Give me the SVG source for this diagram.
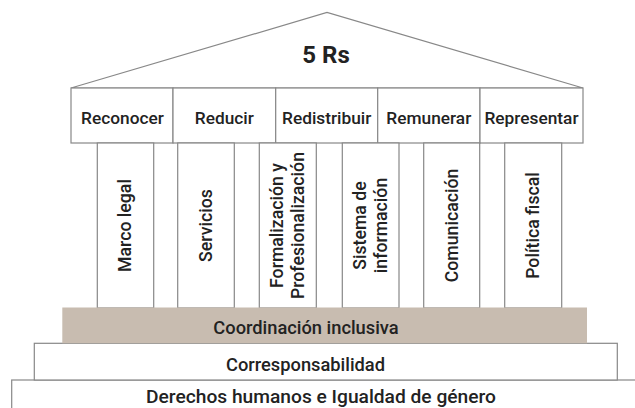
<svg xmlns="http://www.w3.org/2000/svg" width="635" height="408" viewBox="0 0 635 408">
<style>
.ln{fill:#fff;stroke:#888;stroke-width:1.2}
.t{font-family:Roboto,"Noto Sans",sans-serif;font-weight:500;font-size:17.3px;fill:#222;text-anchor:middle;dominant-baseline:central}
.c{font-size:17.7px}
.b{font-size:18.3px}
</style>
<rect width="635" height="408" fill="#fff"/>
<g id="roof">
<polygon class="ln" points="71,88 327,12.5 583,88"/>
<text class="t" x="326" y="55" style="font-size:24px;font-weight:700">5 Rs</text>
</g>
<g id="frieze">
<g id="reconocer"><rect class="ln" x="71" y="88" width="102" height="55"/><text class="t" x="122.5" y="118">Reconocer</text></g>
<g id="reducir"><rect class="ln" x="173" y="88" width="102.7" height="55"/><text class="t" x="224.3" y="118">Reducir</text></g>
<g id="redistribuir"><rect class="ln" x="275.7" y="88" width="102" height="55"/><text class="t" x="326.7" y="118">Redistribuir</text></g>
<g id="remunerar"><rect class="ln" x="377.7" y="88" width="102.3" height="55"/><text class="t" x="428.8" y="118">Remunerar</text></g>
<g id="representar"><rect class="ln" x="480" y="88" width="103" height="55"/><text class="t" x="531.5" y="118">Representar</text></g>
</g>
<g id="columns">
<g id="marco"><rect class="ln" x="97.3" y="143" width="56.4" height="165"/><text class="t c" transform="translate(125,225.5) rotate(-90)">Marco legal</text></g>
<g id="servicios"><rect class="ln" x="177.7" y="143" width="56.6" height="165"/><text class="t c" transform="translate(206,225.5) rotate(-90)">Servicios</text></g>
<g id="formalizacion"><rect class="ln" x="259.3" y="143" width="57" height="165"/><text class="t c" transform="translate(287.8,225.5) rotate(-90)"><tspan x="0" y="-10.5">Formalización y</tspan><tspan x="0" y="10.5">Profesionalización</tspan></text></g>
<g id="sistema"><rect class="ln" x="342.3" y="143" width="56.7" height="165"/><text class="t c" transform="translate(370.6,225.5) rotate(-90)"><tspan x="0" y="-10.5">Sistema de</tspan><tspan x="0" y="10.5">información</tspan></text></g>
<g id="comunicacion"><rect class="ln" x="423.7" y="143" width="56" height="165"/><text class="t c" transform="translate(451.7,225.5) rotate(-90)">Comunicación</text></g>
<g id="politica"><rect class="ln" x="504.7" y="143" width="57" height="165"/><text class="t c" transform="translate(533.2,225.5) rotate(-90)">Política fiscal</text></g>
</g>
<g id="base">
<g id="derechos"><rect class="ln" x="11.7" y="380" width="640" height="40"/><text class="t" x="321" y="396.5" style="font-size:19.2px">Derechos humanos e Igualdad de género</text></g>
<g id="corresp"><rect class="ln" x="34.3" y="343.3" width="583" height="36.7"/><text class="t b" x="305.5" y="364">Corresponsabilidad</text></g>
<g id="coord"><rect x="62.3" y="307.5" width="524.7" height="35.8" fill="#c8bcb0"/><text class="t b" x="306" y="327">Coordinación inclusiva</text></g>
</g>
<g id="connectors"/>
</svg>
